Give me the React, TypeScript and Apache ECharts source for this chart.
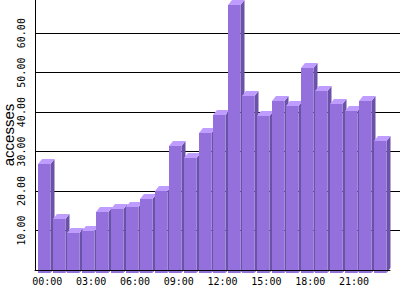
import React, { useEffect, useRef } from "react";
import * as echarts from "echarts";

const hours = [
  "00:00", "01:00", "02:00", "03:00", "04:00", "05:00", "06:00", "07:00",
  "08:00", "09:00", "10:00", "11:00", "12:00", "13:00", "14:00", "15:00",
  "16:00", "17:00", "18:00", "19:00", "20:00", "21:00", "22:00", "23:00",
];
const accesses = [
  26.8, 13.0, 9.5, 10.0, 14.8, 15.5, 16.0, 18.0, 20.1, 31.5, 28.5, 34.8,
  39.3, 67.2, 44.1, 39.1, 42.9, 41.5, 51.1, 45.4, 42.1, 40.3, 42.9, 32.7,
];
const yTicks = [10, 20, 30, 40, 50, 60];

const FRONT = "#9370DB";
const TOP = "#BF9CFF";
const SIDE = "#6A52A8";

export default function App() {
  const ref = useRef<HTMLDivElement>(null);
  useEffect(() => {
    if (!ref.current) return;
    const chart = echarts.init(ref.current, null, { renderer: "svg" });
    const yMax = 68.4;
    const mono = "DejaVu Sans Mono";
    chart.setOption({
      animation: false,
      backgroundColor: "#ffffff",
      grid: [
        { left: 35, right: 0, top: 0, bottom: 30, outerBoundsMode: "none", containLabel: false },
        { left: 35, right: 14.5, top: 0, bottom: 30, outerBoundsMode: "none", containLabel: false },
        { left: 35, right: 10, top: 0, bottom: 30, outerBoundsMode: "none", containLabel: false },
      ],
      xAxis: [
        { gridIndex: 0, type: "value", show: false, min: 0, max: 1 },
        {
          gridIndex: 1,
          type: "category",
          data: hours,
          axisLine: { show: false },
          axisTick: { show: false },
          axisLabel: {
            interval: 2,
            fontFamily: mono,
            fontSize: 10,
            color: "#000",
            margin: 6,
            padding: [0, 0, 0, 10],
          },
        },
        {
          gridIndex: 2,
          type: "category",
          data: hours,
          z: 10,
          axisLine: { show: true, lineStyle: { color: "#000", width: 1 } },
          axisTick: { show: false },
          axisLabel: { show: false },
        },
      ],
      yAxis: [
        {
          gridIndex: 0,
          type: "value",
          min: 0,
          max: yMax,
          interval: 10,
          name: "accesses",
          nameLocation: "middle",
          nameRotate: 90,
          nameGap: 20,
          nameMoveOverlap: false,
          nameTextStyle: { fontFamily: "Liberation Sans", fontSize: 15, lineHeight: 14, color: "#000" },
          axisLine: { show: true, lineStyle: { color: "#000", width: 1 } },
          axisTick: { show: false },
          axisLabel: {
            rotate: 90,
            align: "center",
            verticalAlign: "top",
            fontFamily: mono,
            fontSize: 10,
            lineHeight: 10,
            color: "#000",
            margin: 19,
            formatter: (v: number) => {
              const r = Math.round(v);
              return yTicks.includes(r) && Math.abs(v - r) < 1e-6 ? r.toFixed(2) : "";
            },
          },
          splitLine: {
            show: true,
            showMinLine: false,
            showMaxLine: false,
            lineStyle: { color: "#000", width: 1 },
          },
        },
        { gridIndex: 1, type: "value", min: 0, max: yMax, show: false },
        { gridIndex: 2, type: "value", min: 0, max: yMax, show: false },
      ],
      series: [
        {
          type: "custom",
          xAxisIndex: 1,
          yAxisIndex: 1,
          data: accesses.map((v, i) => [i, v]),
          renderItem: (params: any, api: any) => {
            const i = api.value(0);
            const v = api.value(1);
            const t = api.coord([i, v]);
            const b = api.coord([i, 0]);
            const fl = Math.round(t[0] - 4.3);
            const fr = fl + 12.5;
            const ty = Math.round(t[1]);
            const by = Math.round(b[1]) + 3;
            const dx = 4;
            const dy = 5;
            return {
              type: "group",
              children: [
                {
                  type: "polygon",
                  shape: { points: [[fr, ty], [fr + dx, ty - dy], [fr + dx, by - dy], [fr, by]] },
                  style: { fill: SIDE },
                },
                {
                  type: "polygon",
                  shape: { points: [[fl, ty], [fl + dx, ty - dy], [fr + dx, ty - dy], [fr, ty]] },
                  style: { fill: TOP },
                },
                {
                  type: "rect",
                  shape: { x: fl, y: ty, width: fr - fl, height: by - ty },
                  style: { fill: FRONT },
                },
              ],
            };
          },
        },
      ],
    });
    return () => chart.dispose();
  }, []);
  return <div ref={ref} style={{ width: 400, height: 300, position: "absolute", left: 0, top: 0 }} />;
}
